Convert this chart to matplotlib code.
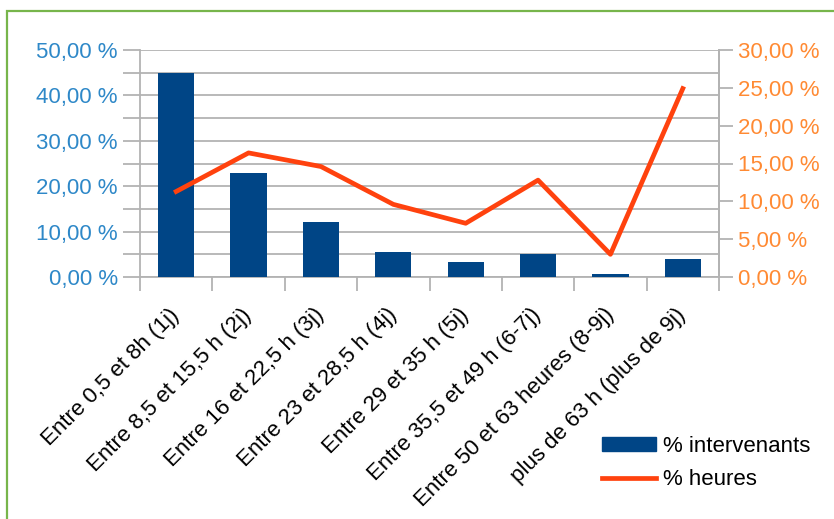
import matplotlib
matplotlib.use("Agg")
import matplotlib.pyplot as plt
import numpy as np
from matplotlib.ticker import FixedLocator, FuncFormatter
from matplotlib.patches import Rectangle
from matplotlib.lines import Line2D
from matplotlib.patches import Patch

categories = ["Entre 0,5 et 8h (1j)", "Entre 8,5 et 15,5 h (2j)", "Entre 16 et 22,5 h (3j)",
              "Entre 23 et 28,5 h (4j)", "Entre 29 et 35 h (5j)", "Entre 35,5 et 49 h (6-7j)",
              "Entre 50 et 63 heures (8-9j)", "plus de 63 h (plus de 9j)"]
pct_intervenants = [45.0, 22.8, 12.2, 5.4, 3.4, 5.0, 0.7, 3.9]
pct_heures = [11.3, 16.4, 14.6, 9.6, 7.1, 12.8, 3.0, 24.9]

plt.rcParams['font.family'] = ['Liberation Sans', 'DejaVu Sans']

BAR = '#004586'
LINE = '#ff420e'
LBLUE = '#2e88c8'
LORANGE = '#ff8a33'
GRID = '#b3b3b3'

fig = plt.figure(figsize=(8.34, 5.19), dpi=100)
W, H = 834, 519
ax = fig.add_axes([140 / W, 1 - 277 / H, (719 - 140) / W, (277 - 50) / H])

x = np.arange(len(categories))
ax.bar(x, pct_intervenants, width=0.5, color=BAR, zorder=3)
ax.set_xlim(-0.5, len(categories) - 0.5)
ax.set_ylim(0, 50)
ax.set_yticks(np.arange(0, 51, 5))
ax.yaxis.set_major_formatter(FuncFormatter(lambda v, p: (f"{v:.2f} %".replace('.', ',')) if round(v) % 10 == 0 else ''))
ax.grid(axis='y', color=GRID, linewidth=1.3, zorder=0)
ax.tick_params(axis='y', colors=GRID, labelcolor=LBLUE, labelsize=16, length=12, width=1.3, pad=4)

ax.set_xticks(x)
ax.set_xticklabels(categories, rotation=45, ha='right', va='center', rotation_mode='anchor', fontsize=16)
ax.tick_params(axis='x', length=0, pad=25)
ax.xaxis.set_minor_locator(FixedLocator(np.arange(-0.5, len(categories), 1)))
ax.tick_params(axis='x', which='minor', length=10, width=1.3, colors=GRID)

for s in ['top']:
    ax.spines[s].set_visible(False)
for s in ['left', 'right', 'bottom']:
    ax.spines[s].set_color(GRID)
    ax.spines[s].set_linewidth(1.3)

ax2 = ax.twinx()
ax2.plot(x, pct_heures, color=LINE, linewidth=3.4, zorder=4, solid_joinstyle='round')
ax2.set_ylim(0, 30)
ax2.set_yticks(np.arange(0, 31, 5))
ax2.yaxis.set_major_formatter(FuncFormatter(lambda v, p: f"{v:.2f} %".replace('.', ',')))
ax2.tick_params(axis='y', colors=GRID, labelcolor=LORANGE, labelsize=16, length=10, width=1.3, pad=4)
for s in ['top', 'left', 'bottom']:
    ax2.spines[s].set_visible(False)
ax2.spines['right'].set_color(GRID)
ax2.spines['right'].set_linewidth(1.3)

handles = [Patch(facecolor=BAR, edgecolor=BAR), Line2D([0], [0], color=LINE, linewidth=3.4)]
fig.legend(handles, ['% intervenants', '% heures'], loc='upper left',
           bbox_to_anchor=(602 / W, 1 - 436 / H), frameon=False, fontsize=16,
           handlelength=2.45, handleheight=0.6, handletextpad=0.3, labelspacing=0.55,
           borderaxespad=0, borderpad=0)

# green frame
fig.add_artist(Rectangle((7 / W, -0.1), 1.2, 1 - 11 / H + 0.1, transform=fig.transFigure,
                         fill=False, edgecolor='#77b54b', linewidth=1.6))

fig.savefig('out.png', dpi=100)
